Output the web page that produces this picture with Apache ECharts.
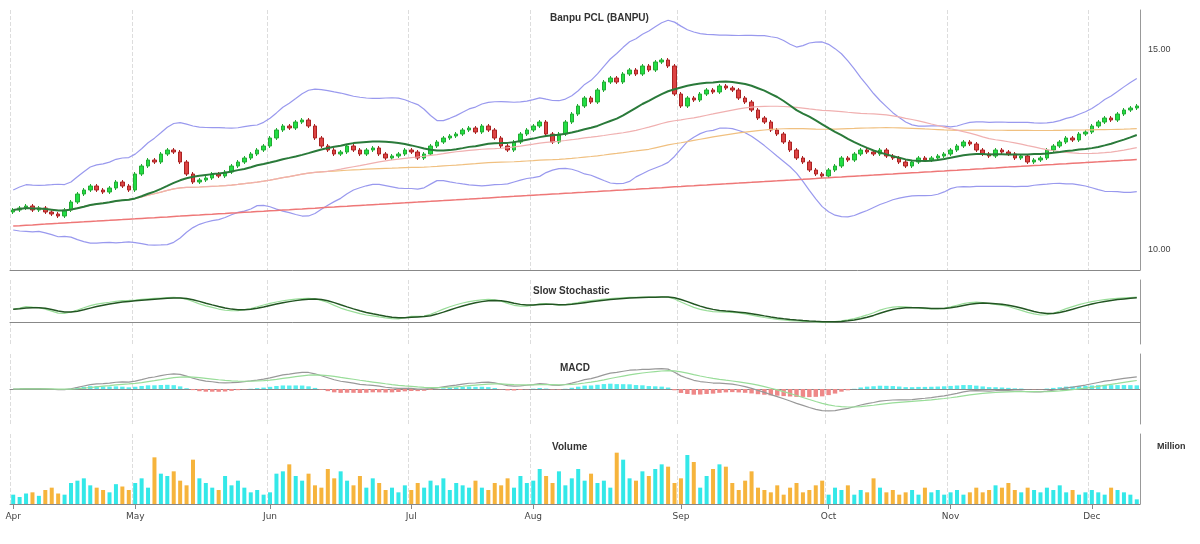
<!DOCTYPE html><html><head><meta charset="utf-8"><script src="https://cdn.jsdelivr.net/npm/echarts@6/dist/echarts.min.js"></script>
<style>body{margin:0;background:#fff}#c{width:1200px;height:544px}</style></head><body><div id="c"></div><script>
const months=['Apr','May','Jun','Jul','Aug','Sep','Oct','Nov','Dec'];
const closeApr=[11.0,11.05,11.1,11.0,11.05,10.95,10.9,10.85,11.0,11.2,11.4,11.5,11.6,11.5,11.45,11.55,11.7,11.6,11.5];
const closeMay=[11.9,12.1,12.25,12.2,12.4,12.5,12.45,12.2,11.9,11.7,11.75,11.8,11.9,11.85,11.95,12.1,12.2,12.3,12.4,12.5,12.6];
const closeJun=[12.8,13.0,13.1,13.05,13.2,13.25,13.1,12.8,12.6,12.5,12.4,12.45,12.6,12.5,12.4,12.5,12.55,12.4,12.3,12.35,12.4,12.5];
const closeJul=[12.45,12.3,12.4,12.6,12.7,12.8,12.85,12.9,13.0,13.05,12.95,13.1,13.0,12.8,12.6,12.5,12.7,12.9,13.0];
const closeAug=[13.1,13.2,12.9,12.7,12.9,13.2,13.4,13.6,13.8,13.7,14.0,14.2,14.3,14.2,14.4,14.5,14.4,14.6,14.5,14.7,14.75,14.6,13.9];
const closeSep=[13.6,13.8,13.75,13.9,14.0,13.95,14.1,14.05,14.0,13.8,13.7,13.5,13.3,13.2,13.0,12.9,12.7,12.5,12.3,12.2,12.0,11.9,11.85];
const closeOct=[12.0,12.1,12.3,12.25,12.4,12.5,12.45,12.4,12.5,12.35,12.3,12.2,12.1,12.2,12.3,12.25,12.3,12.35,12.4];
const closeNov=[12.5,12.6,12.7,12.65,12.5,12.4,12.35,12.5,12.45,12.4,12.3,12.35,12.2,12.25,12.3,12.5,12.6,12.7,12.8,12.75,12.9,12.95];
const closeDec=[13.1,13.2,13.3,13.25,13.4,13.5,13.55,13.6];
const volumes=[8,6,9,10,7,12,14,9,8,18,20,22,16,14,12,10,17,15,12,
 18,22,14,40,26,24,28,20,16,38,22,18,14,12,24,16,20,14,10,12,8,10,
 26,28,34,24,20,26,16,14,30,22,28,20,16,24,14,22,18,12,14,10,16,12,
 18,14,20,16,22,12,18,16,14,20,14,12,18,16,22,14,24,18,20,
 30,24,18,28,16,22,30,20,26,18,20,14,44,38,22,20,28,24,30,34,32,18,22,
 42,36,14,24,30,34,32,18,12,20,28,14,12,10,16,8,14,18,10,12,16,20,8,
 14,12,16,8,12,10,22,14,10,12,8,10,12,8,14,10,12,8,10,
 12,8,10,14,10,12,16,14,18,12,10,14,12,10,14,12,16,10,12,8,10,12,
 10,8,14,12,10,8,4,6];
const closes=[].concat(closeApr,closeMay,closeJun,closeJul,closeAug,closeSep,closeOct,closeNov,closeDec);
const perMonth=[closeApr,closeMay,closeJun,closeJul,closeAug,closeSep,closeOct,closeNov,closeDec].map(a=>a.length);
const cats=[],firstIdx={};let k=0;
perMonth.forEach((n,m)=>{for(let i=0;i<n;i++){cats.push(months[m]+' '+(i+1));if(i===0)firstIdx[k]=months[m];k++;}});
const N=closes.length;
const opens=closes.map((c,i)=>i===0?c-0.05:closes[i-1]);
const candle=closes.map((c,i)=>[opens[i],c,Math.min(opens[i],c)-0.05,Math.max(opens[i],c)+0.05]);
function sma(p){return closes.map((_,i)=>{const s=Math.max(0,i-p+1);const a=closes.slice(s,i+1);return +(a.reduce((x,y)=>x+y,0)/a.length).toFixed(3);});}
function ema(arr,p){const k=2/(p+1);let e=arr[0];return arr.map(v=>e=v*k+e*(1-k));}
const ma20=sma(20),ma50=sma(50),ma100=sma(100),ma200=closes.map((_,i)=>+(10.6+i*0.0095).toFixed(3));
const bbU=[],bbL=[];closes.forEach((_,i)=>{const a=closes.slice(Math.max(0,i-19),i+1);const m=a.reduce((x,y)=>x+y,0)/a.length;const sd=Math.sqrt(a.reduce((x,y)=>x+(y-m)*(y-m),0)/a.length)+0.25;bbU.push(+(m+2*sd).toFixed(3));bbL.push(+(m-2*sd).toFixed(3));});
const kraw=closes.map((c,i)=>{const a=closes.slice(Math.max(0,i-13),i+1);const lo=Math.min(...a),hi=Math.max(...a);return hi===lo?50:(c-lo)/(hi-lo)*100;});
const kS=ema(ema(kraw,8),4),dS=ema(kS,4);
const e26=ema(closes,26);const macd=ema(closes,12).map((v,i)=>v-e26[i]);const sig=ema(macd,9);
const up=closes.map((c,i)=>c>=opens[i]);
const grids=[{left:10,right:60,top:10,height:260},{left:10,right:60,top:280,height:64},{left:10,right:60,top:354,height:70},{left:10,right:60,top:434,height:70}];
const xAxes=grids.map((g,i)=>({type:'category',gridIndex:i,data:cats,boundaryGap:true,axisTick:{show:i===3,alignWithLabel:true,interval:(idx)=>firstIdx[idx]!==undefined},
 axisLine:{lineStyle:{color:'#888'}},splitLine:{show:true,interval:(idx)=>firstIdx[idx]!==undefined,lineStyle:{color:'#ddd',type:'dashed'}},
 axisLabel:{show:i===3,interval:(idx)=>firstIdx[idx]!==undefined,formatter:(v)=>v.split(' ')[0],fontSize:9,color:'#444',fontFamily:'DejaVu Sans'}}));
const ya=(i,o)=>Object.assign({type:'value',gridIndex:i,position:'right',axisLine:{show:true,lineStyle:{color:'#999'}},splitLine:{show:false},axisLabel:{fontSize:9,color:'#444'}},o);
const line=(d,c,xi,w)=>({type:'line',data:d,xAxisIndex:xi,yAxisIndex:xi,showSymbol:false,lineStyle:{color:c,width:w||1.2},silent:true});
const chart=echarts.init(document.getElementById('c'));
chart.setOption({animation:false,
 title:[{text:'Banpu PCL (BANPU)',left:545,top:8,textStyle:{fontSize:10,fontWeight:'bold',color:'#333'}},
  {text:'Slow Stochastic',left:528,top:281,textStyle:{fontSize:10,fontWeight:'bold',color:'#333'}},
  {text:'MACD',left:555,top:358,textStyle:{fontSize:10,fontWeight:'bold',color:'#333'}},
  {text:'Volume',left:547,top:437,textStyle:{fontSize:10,fontWeight:'bold',color:'#333'}},
  {text:'Million',left:1152,top:437,textStyle:{fontSize:9,color:'#333'}}],
 grid:grids,xAxis:xAxes,
 yAxis:[ya(0,{min:9.5,max:16,interval:0.5,axisTick:{show:false},axisLabel:{fontSize:9,color:'#444',formatter:v=>(Math.abs(v-10)<1e-6||Math.abs(v-15)<1e-6)?v.toFixed(2):''}}),
  ya(1,{min:-80,max:160,interval:80,axisLabel:{show:false}}),ya(2,{min:-0.8,max:0.8,axisLabel:{show:false}}),ya(3,{min:0,max:60,axisLabel:{show:false}})],
 series:[
  line(bbU,'#9999ee',0),line(bbL,'#9999ee',0),line(ma200,'#ee7777',0,1.5),line(ma100,'#f0c080',0),line(ma50,'#f0b0b0',0),line(ma20,'#2a7a3a',0,2),
  {type:'candlestick',data:candle,barWidth:4,itemStyle:{color:'#22dd44',color0:'#dd4444',borderColor:'#22aa33',borderColor0:'#aa2222'}},
  line(kS,'#99dd99',1),line(dS,'#225522',1,1.5),
  line(macd,'#999999',2),line(sig,'#99dd99',2),
  {type:'bar',xAxisIndex:2,yAxisIndex:2,data:macd.map((v,i)=>v-sig[i]),itemStyle:{color:p=>p.value>=0?'#55eeee':'#ee8888'}},
  {type:'bar',xAxisIndex:3,yAxisIndex:3,data:volumes.slice(0,N).map((v,i)=>({value:v,itemStyle:{color:up[i]?'#33e8e8':'#f6b43c'}})),barWidth:4},
 ]});
</script></body></html>
